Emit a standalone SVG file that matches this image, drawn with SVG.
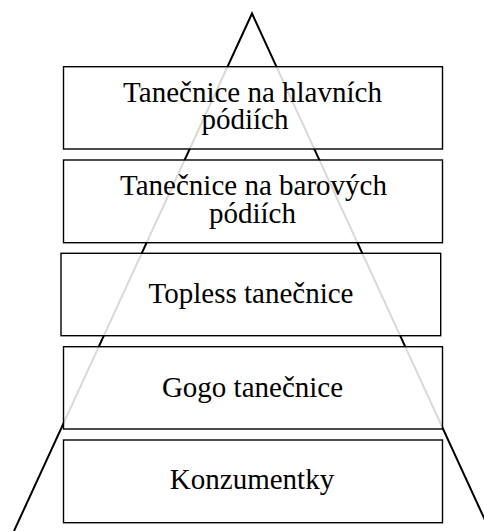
<svg xmlns="http://www.w3.org/2000/svg" width="484" height="531" viewBox="0 0 484 531">
<style>
.box{fill:#ffffff;fill-opacity:0.85;stroke:#000;stroke-width:1.4}
.lbl{font-family:"Liberation Serif","Times New Roman",serif;font-size:29px;fill:#000;text-anchor:middle}
.tri{fill:none;stroke:#000;stroke-width:2}
</style>
<rect width="484" height="531" fill="#fff"/>
<g id="connectors">
<path class="tri" d="M14,531 L252,13.5 L490,531"/>
</g>
<g id="n1">
<rect class="box" x="63.5" y="66.7" width="379" height="82.3"/>
<text class="lbl"><tspan x="252.5" y="101.7">Tanečnice na hlavních</tspan><tspan x="245" y="129.3">pódiích</tspan></text>
</g>
<g id="n2">
<rect class="box" x="63.5" y="160" width="379" height="82.7"/>
<text class="lbl"><tspan x="253.5" y="195">Tanečnice na barových</tspan><tspan x="252.5" y="223.3">pódiích</tspan></text>
</g>
<g id="n3">
<rect class="box" x="61" y="253.3" width="379.7" height="82.4"/>
<text class="lbl" x="251" y="302.7">Topless tanečnice</text>
</g>
<g id="n4">
<rect class="box" x="63.5" y="346.7" width="379" height="82.3"/>
<text class="lbl" x="252.5" y="396.7">Gogo tanečnice</text>
</g>
<g id="n5">
<rect class="box" x="63.5" y="440" width="379" height="82.7"/>
<text class="lbl" x="252" y="489.3">Konzumentky</text>
</g>
</svg>
